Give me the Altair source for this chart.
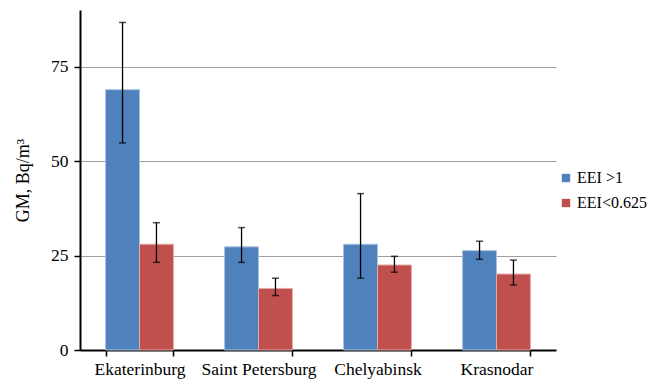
import altair as alt
import pandas as pd

# Geometric mean radon concentration by city and energy-efficiency group
cities = ["Ekaterinburg", "Saint Petersburg", "Chelyabinsk", "Krasnodar"]
groups = ["EEI >1", "EEI<0.625"]

gm_high = [68.9, 27.3, 28.0, 26.3]
lo_high = [54.8, 23.2, 19.0, 24.0]
hi_high = [86.7, 32.4, 41.4, 28.8]

gm_low = [28.0, 16.3, 22.5, 20.1]
lo_low = [23.2, 14.4, 20.6, 17.2]
hi_low = [33.7, 19.0, 24.8, 23.8]

rows = []
for i, c in enumerate(cities):
    rows.append({"city": c, "group": groups[0], "gm": gm_high[i], "lo": lo_high[i], "hi": hi_high[i]})
    rows.append({"city": c, "group": groups[1], "gm": gm_low[i], "lo": lo_low[i], "hi": hi_low[i]})
df = pd.DataFrame(rows)

FONT = "Liberation Serif"
FS = 17.5

x_scale = alt.Scale(domain=cities, paddingInner=0.43, paddingOuter=0.215)
y_scale = alt.Scale(domain=[0, 90], nice=False)
xoff = alt.XOffset("group:N", sort=groups, scale=alt.Scale(paddingInner=0, paddingOuter=0))

axis_style = dict(
    labelFont=FONT, labelFontSize=FS, labelColor="black",
    domainColor="black", domainWidth=2, tickColor="black", tickWidth=1.5, tickSize=6,
)
x_axis = alt.Axis(labelAngle=0, tickBand="extent", grid=False, title=None,
                  labelPadding=4, **axis_style)
y_axis = alt.Axis(
    values=[0, 25, 50, 75], grid=True, gridColor="#A0A0A0", gridWidth=1,
    title="GM, Bq/m³", titleFont=FONT, titleFontSize=18, titleFontWeight="normal",
    titleColor="black", titlePadding=18, labelPadding=6, **axis_style,
)

bars = alt.Chart(df).mark_bar(strokeWidth=1).encode(
    x=alt.X("city:N", scale=x_scale, axis=x_axis),
    xOffset=xoff,
    y=alt.Y("gm:Q", scale=y_scale, axis=y_axis),
    color=alt.Color(
        "group:N", sort=groups, title=None,
        scale=alt.Scale(domain=groups, range=["#4F81BD", "#C0504D"]),
        legend=alt.Legend(
            orient="none", legendX=478, legendY=160,
            labelFont=FONT, labelFontSize=16, labelColor="black",
            symbolType="square", symbolSize=70, symbolStrokeWidth=0,
            rowPadding=9, labelOffset=3,
        ),
    ),
    stroke=alt.Stroke(
        "group:N", sort=groups,
        scale=alt.Scale(domain=groups, range=["#A9C1E0", "#E3A9A7"]), legend=None,
    ),
)

whiskers = alt.Chart(df).mark_rule(color="black", strokeWidth=1.3).encode(
    x=alt.X("city:N", scale=x_scale, axis=x_axis), xOffset=xoff,
    y=alt.Y("lo:Q", scale=y_scale, axis=y_axis), y2="hi:Q",
)
caps_hi = alt.Chart(df).mark_tick(color="black", thickness=1.5, size=7, orient="horizontal").encode(
    x=alt.X("city:N", scale=x_scale, axis=x_axis), xOffset=xoff,
    y=alt.Y("hi:Q", scale=y_scale, axis=y_axis),
)
caps_lo = alt.Chart(df).mark_tick(color="black", thickness=1.5, size=7, orient="horizontal").encode(
    x=alt.X("city:N", scale=x_scale, axis=x_axis), xOffset=xoff,
    y=alt.Y("lo:Q", scale=y_scale, axis=y_axis),
)

chart = (
    alt.layer(bars, whiskers, caps_hi, caps_lo)
    .properties(
        width=476, height=340,
        background="white",
        autosize=alt.AutoSizeParams(type="none"),
        padding={"left": 80, "top": 10, "right": 98, "bottom": 32},
    )
    .configure_view(stroke=None)
)

chart.save("out.html", embed_options={"renderer": "svg", "actions": False})
